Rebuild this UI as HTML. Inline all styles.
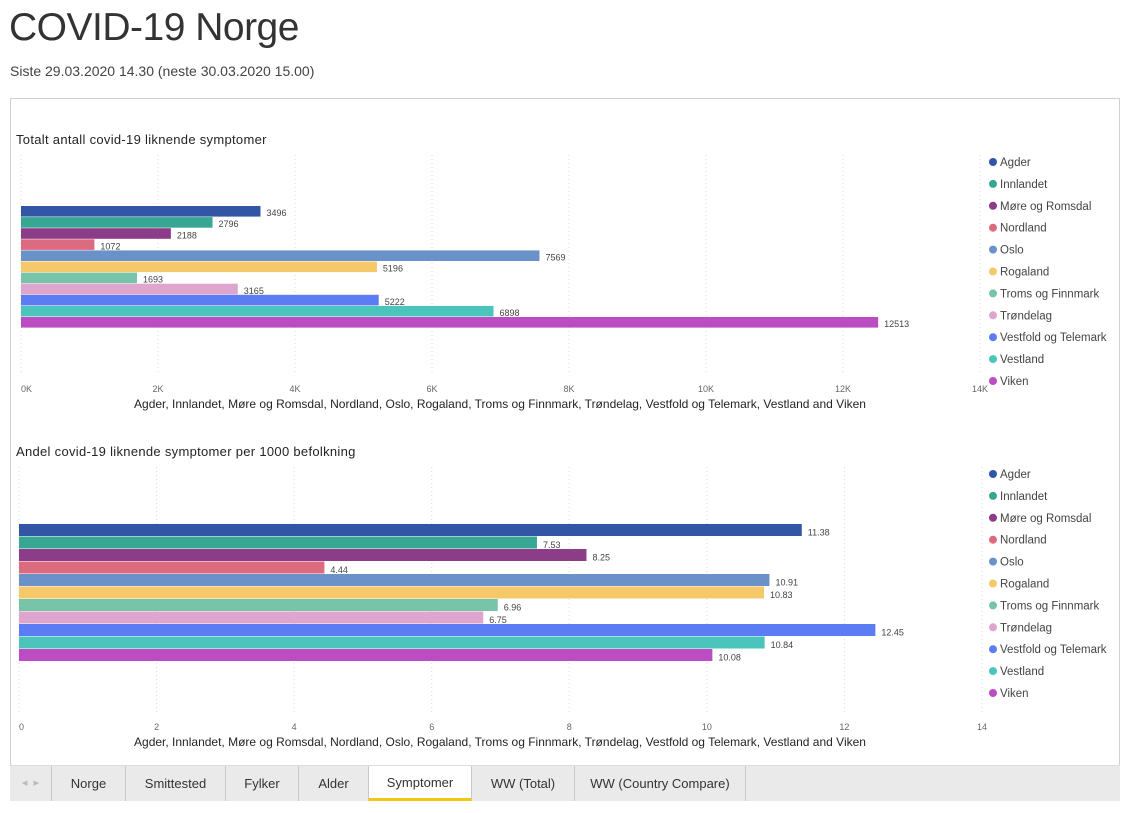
<!DOCTYPE html>
<html><head><meta charset="utf-8">
<style>
body{margin:0;width:1140px;height:813px;background:#fff;font-family:"Liberation Sans",sans-serif;position:relative;overflow:hidden;color:#252423}
#title{position:absolute;left:9px;top:6px;font-size:39px;font-weight:300;color:#333;letter-spacing:-0.5px}
#sub{position:absolute;left:10px;top:63px;font-size:14px;color:#444}
#frame{position:absolute;left:10px;top:98px;width:1108px;height:701px;border:1px solid #d0d0d0}
#tabs{position:absolute;left:10px;top:765px;width:1110px;height:35px;background:#eaeaea;border-top:1px solid #ddd}
.tab{position:absolute;top:0;height:35px;line-height:35px;text-align:center;font-size:13px;color:#333;border-right:1px solid #c8c8c8}
svg{position:absolute;left:0;top:0}
</style></head><body>
<div id="title">COVID-19 Norge</div>
<div id="sub">Siste 29.03.2020 14.30 (neste 30.03.2020 15.00)</div>
<div id="frame"></div>
<svg id="chart" width="1140" height="813"></svg>
<div id="tabs">
 <div class="tab" style="left:0;width:41px;color:#bbb;font-size:11px">◂ &nbsp;▸</div>
 <div class="tab" style="left:42px;width:73px">Norge</div>
 <div class="tab" style="left:116px;width:99px">Smittested</div>
 <div class="tab" style="left:216px;width:72px">Fylker</div>
 <div class="tab" style="left:289px;width:69px">Alder</div>
 <div class="tab" style="left:359px;width:102px;background:#fff;height:32px;border-bottom:3px solid #f2c811;line-height:33px">Symptomer</div>
 <div class="tab" style="left:462px;width:102px">WW (Total)</div>
 <div class="tab" style="left:565px;width:170px">WW (Country Compare)</div>
</div>
<script>
const categories=["Agder","Innlandet","Møre og Romsdal","Nordland","Oslo","Rogaland","Troms og Finnmark","Trøndelag","Vestfold og Telemark","Vestland","Viken"];
const totalValues=[3496,2796,2188,1072,7569,5196,1693,3165,5222,6898,12513];
const perThousandValues=[11.38,7.53,8.25,4.44,10.91,10.83,6.96,6.75,12.45,10.84,10.08];
const totalTicks=[0,2000,4000,6000,8000,10000,12000,14000];
const totalTickLabels=["0K","2K","4K","6K","8K","10K","12K","14K"];
const perTicks=[0,2,4,6,8,10,12,14];
const perTickLabels=["0","2","4","6","8","10","12","14"];
const colors=["#3355a6","#37a794","#8b3d88","#dd6b7f","#6b91c9","#f5c869","#77c4a8","#dea6cf","#5b7cf2","#4bc4bc","#bb4cc2"];
const svg=document.getElementById('chart');const NS="http://www.w3.org/2000/svg";
function mk(t,a,txt){const e=document.createElementNS(NS,t);for(const k in a)e.setAttribute(k,a[k]);if(txt!==undefined)e.textContent=txt;svg.appendChild(e);return e;}
function chart(o){
 const x=v=>o.x0+(v-o.min)/(o.max-o.min)*(o.x1-o.x0);
 let t=mk('text',{x:16,y:o.titleY,'font-size':13,fill:'#252423','letter-spacing':'0.3'},o.title);
 
 o.ticks.forEach((v,i)=>{
  let g=mk('line',{x1:x(v),x2:x(v),y1:o.gTop,y2:o.gBot,stroke:'#d8d8d8','stroke-dasharray':'1,3'});
  
  let l=mk('text',{x:x(v),y:o.tickY,'font-size':9,fill:'#666','text-anchor':i==o.ticks.length-1?'middle':(i==0?'start':'middle')},o.tickLabels[i]);
  
 });
 let at=mk('text',{x:500,y:o.tickY+16,'font-size':12,fill:'#252423','text-anchor':'middle'},categories.join(', ').replace(/, Viken$/,' and Viken'));
 
 o.values.forEach((v,i)=>{
  const y=o.barTop+i*o.bh;
  let r=mk('rect',{x:x(0),y:y,width:x(v)-x(0),height:o.bh-0.5,fill:colors[i]});
  
  let lb=mk('text',{x:x(v)+6,y:y+o.bh-1,'font-size':9,fill:'#444'},o.fmt(v));
  
 });
 categories.forEach((c,i)=>{
  const y=o.legY+i*21.9;
  let d=mk('circle',{cx:993,cy:y,r:4,fill:colors[i]});
  
  let lt=mk('text',{x:1000,y:y+4,'font-size':11.5,fill:'#444'},c);
  
 });
}
chart({key:'total',title:'Totalt antall covid-19 liknende symptomer',titleY:144,x0:21,x1:980,min:0,max:14000,gTop:155,gBot:375,tickY:392,ticks:totalTicks,tickLabels:totalTickLabels,values:totalValues,barTop:206,bh:11.1,legY:162,fmt:v=>String(v)});
chart({key:'per1000',title:'Andel covid-19 liknende symptomer per 1000 befolkning',titleY:456,x0:19,x1:982,min:0,max:14,gTop:467,gBot:715,tickY:730,ticks:perTicks,tickLabels:perTickLabels,values:perThousandValues,barTop:524,bh:12.5,legY:474,fmt:v=>v.toFixed(2)});
</script>
</body></html>
